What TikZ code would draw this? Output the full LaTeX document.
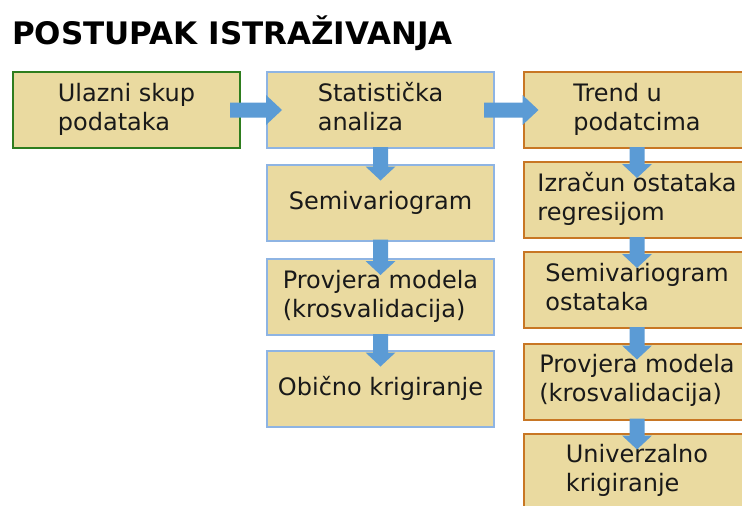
\documentclass[tikz,border=0pt]{standalone}
\usepackage{fontspec}
\setmainfont{DejaVu Sans}
\usetikzlibrary{calc}
\definecolor{boxfill}{RGB}{234,218,160}
\definecolor{greenline}{RGB}{46,125,30}
\definecolor{blueline}{RGB}{142,180,227}
\definecolor{orangeline}{RGB}{200,118,36}
\definecolor{arrowblue}{RGB}{91,155,213}
\definecolor{txt}{RGB}{25,25,25}
\newcommand{\bstrut}{\rule[-7pt]{0pt}{27pt}}
\tikzset{
  stepbox/.style={rectangle, fill=boxfill, line width=2pt, minimum width=227pt, minimum height=76pt,
    inner sep=0pt, align=left, text=txt, font=\fontsize{24}{29}\selectfont,
    execute at begin node=\bstrut, execute at end node=\bstrut},
  greenbox/.style={stepbox, draw=greenline},
  bluebox/.style={stepbox, draw=blueline},
  orangebox/.style={stepbox, draw=orangeline},
  blockarrow/.style={fill=arrowblue, draw=none}
}
\newcommand{\harrow}[2]{%
  \fill[blockarrow] ($(#1.east)+(-11,-7.5)$) -- ($(#2.west)+(0,-7.5)$) -- ($(#2.west)+(0,-15)$)
    -- ($(#2.west)+(16,0)$) -- ($(#2.west)+(0,15)$) -- ($(#2.west)+(0,7.5)$) -- ($(#1.east)+(-11,7.5)$) -- cycle;}
\newcommand{\varrow}[2]{%
  \fill[blockarrow] ($(#1.south)+(-7.5,-2)$) -- ($(#2.north)+(-7.5,3)$) -- ($(#2.north)+(-15,3)$)
    -- ($(#2.north)+(0,17)$) -- ($(#2.north)+(15,3)$) -- ($(#2.north)+(7.5,3)$) -- ($(#1.south)+(7.5,-2)$) -- cycle;}
\begin{document}
\begin{tikzpicture}[x=1pt,y=-1pt]
\useasboundingbox (0,0) rectangle (742,506);
\clip (0,0) rectangle (742,506);
\fill[white] (0,0) rectangle (742,506);
\node[anchor=base west, inner sep=0pt, font=\bfseries\fontsize{31}{36}\selectfont, text=black] (title) at (12,44) {POSTUPAK ISTRAŽIVANJA};
% column 1
\node[greenbox] (ulaz) at (126.5,110) {Ulazni skup\\podataka};
% column 2
\node[bluebox] (stat) at (380.5,110) {Statistička\\analiza};
\node[bluebox] (semi) at (380.5,202.5) {Semivariogram};
\node[bluebox] (prov) at (380.5,297) {Provjera modela\\(krosvalidacija)};
\node[bluebox] (obic) at (380.5,388.5) {Obično krigiranje};
% column 3
\node[orangebox] (trend) at (637,110) {Trend u\\podatcima};
\node[orangebox] (izr) at (637,200) {Izračun ostataka\\regresijom};
\node[orangebox] (semo) at (637,290) {Semivariogram\\ostataka};
\node[orangebox] (prov2) at (637,381.5) {Provjera modela\\(krosvalidacija)};
\node[orangebox] (univ) at (637,471.5) {Univerzalno\\krigiranje};
% arrows
\harrow{ulaz}{stat}
\harrow{stat}{trend}
\varrow{stat}{semi}
\varrow{semi}{prov}
\varrow{prov}{obic}
\varrow{trend}{izr}
\varrow{izr}{semo}
\varrow{semo}{prov2}
\varrow{prov2}{univ}
\end{tikzpicture}
\end{document}
